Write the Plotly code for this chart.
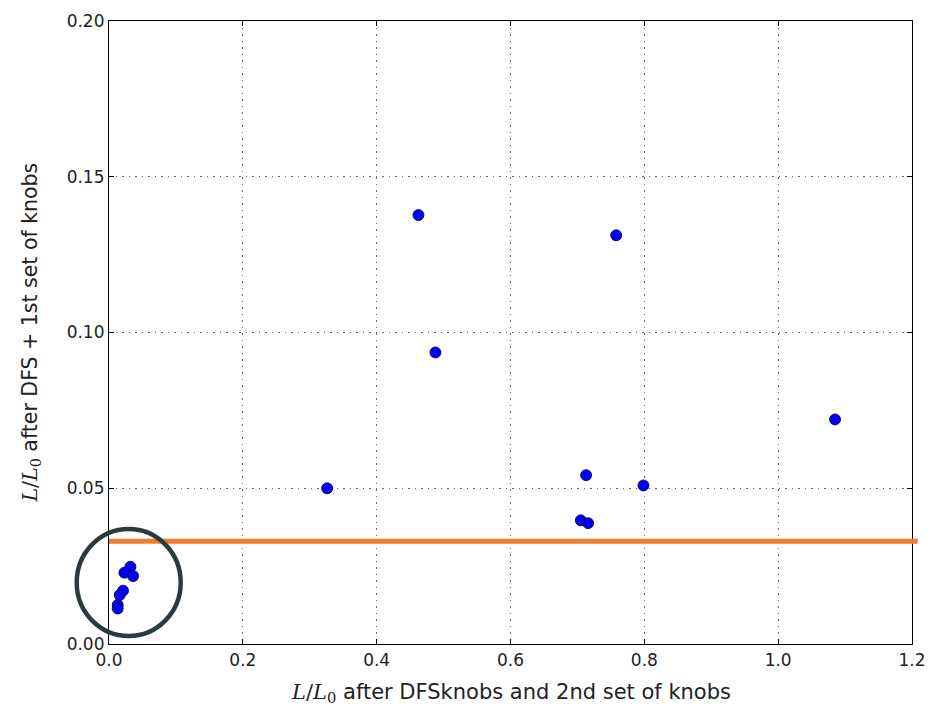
import plotly.graph_objects as go

x_vals = [0.032, 0.023, 0.036, 0.021, 0.016, 0.013, 0.013,
          0.326, 0.4624, 0.4878, 0.705, 0.713, 0.716, 0.758, 0.7987, 1.085]
y_vals = [0.0248, 0.0229, 0.0218, 0.0171, 0.0157, 0.0125, 0.0114,
          0.0500, 0.1377, 0.0936, 0.0397, 0.0542, 0.0388, 0.1312, 0.0509, 0.0721]
threshold = 0.033
x_ticks = [0.0, 0.2, 0.4, 0.6, 0.8, 1.0, 1.2]
y_ticks = [0.00, 0.05, 0.10, 0.15, 0.20]

math = '<span style="font-family:DejaVu Serif"><i>L</i>/<i>L</i><sub>0</sub></span>'
x_title = math + " after DFSknobs and 2nd set of knobs"
y_title = math + " after DFS + 1st set of knobs"

fig = go.Figure()
fig.add_trace(go.Scatter(
    x=x_vals, y=y_vals, mode="markers",
    marker=dict(size=11, color="#0000ff", line=dict(color="#000033", width=0.8)),
    cliponaxis=False, showlegend=False))

axis_common = dict(
    showline=True, linecolor="black", linewidth=1.2, mirror="allticks",
    ticks="inside", ticklen=5, tickcolor="black",
    showgrid=True, gridcolor="rgba(0,0,0,0.6)", gridwidth=1, griddash="1.5px,5px",
    zeroline=False,
    tickfont=dict(family="DejaVu Sans", size=17, color="#222"),
)

fig.update_xaxes(range=[0, 1.2], tickvals=x_ticks, tickformat=".1f", **axis_common)
fig.update_yaxes(range=[0, 0.2], tickvals=y_ticks, tickformat=".2f", **axis_common)

# axis titles as annotations for precise placement
fig.add_annotation(text=x_title, xref="paper", yref="paper", x=0.5, y=0,
                   xanchor="center", yanchor="middle", yshift=-49, showarrow=False,
                   font=dict(family="DejaVu Sans", size=21, color="#222"))
fig.add_annotation(text=y_title, xref="paper", yref="paper", x=0, y=0.5,
                   xanchor="center", yanchor="middle", xshift=-79, textangle=-90,
                   showarrow=False,
                   font=dict(family="DejaVu Sans", size=20.5, color="#222"))

# threshold line (orange), extends slightly beyond the right spine
fig.add_shape(type="line", xref="paper", yref="paper",
              x0=0, x1=1.007, y0=threshold / 0.2, y1=threshold / 0.2,
              line=dict(color="#ee7d2e", width=5), layer="above")
# highlight circle
fig.add_shape(type="circle", xref="paper", yref="paper",
              x0=-0.0402, x1=0.0893, y0=0.0128, y1=0.1846,
              line=dict(color="#2a3b40", width=4.5), layer="above")

fig.update_layout(
    width=944, height=709,
    margin=dict(l=109, r=32, t=21, b=65),
    plot_bgcolor="white", paper_bgcolor="white",
)

fig.write_html("out.html")
